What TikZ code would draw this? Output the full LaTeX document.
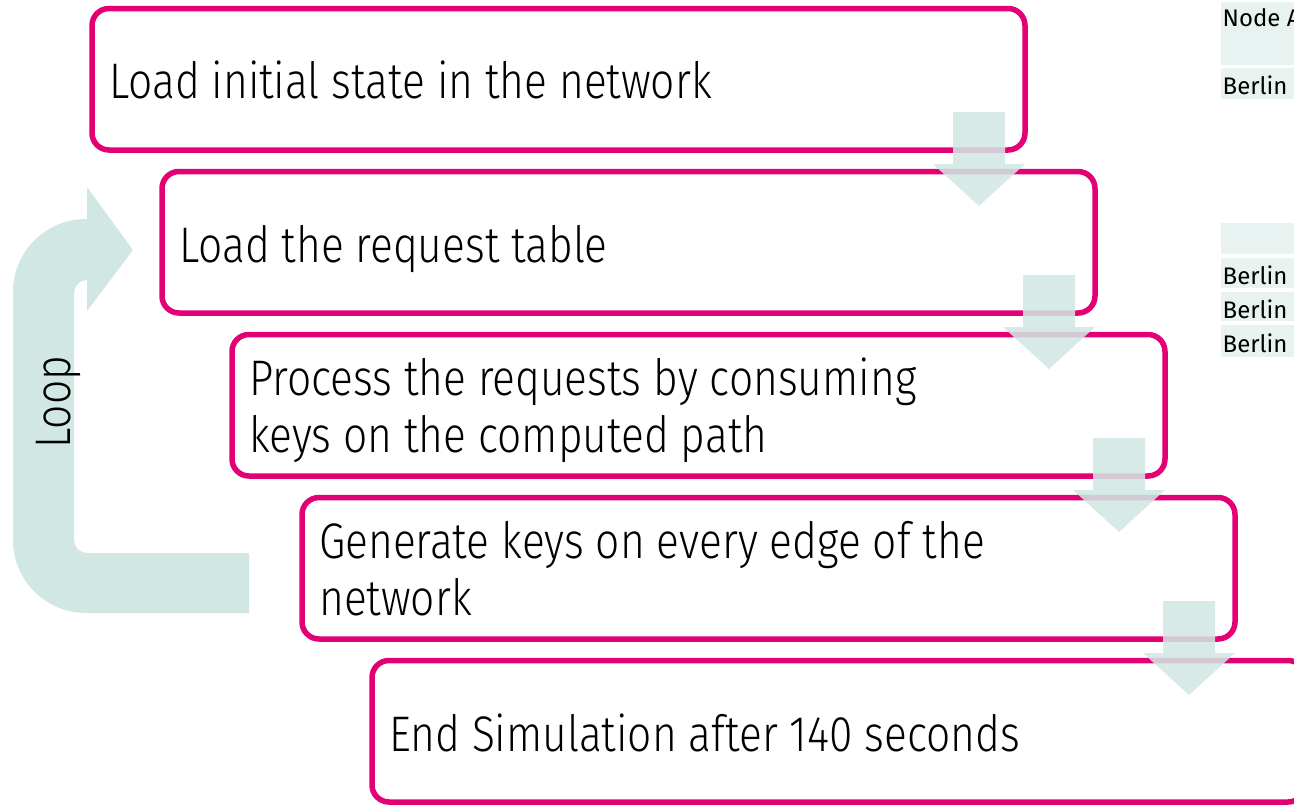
\documentclass[tikz,border=0pt]{standalone}
\usepackage{fontspec}
\usetikzlibrary{calc}
\newfontfamily\stepfont{Fira Sans Light}[FakeStretch=0.85]
\newfontfamily\cellfont{Fira Sans}
\definecolor{tmagenta}{HTML}{E20074}
\definecolor{flowmint}{HTML}{D1E7E3}
\definecolor{cellmint}{HTML}{E8F3F1}
\begin{document}
\begin{tikzpicture}[x=1pt,y=-1pt,
  stepbox/.style={draw=tmagenta, line width=5.5pt, rounded corners=17pt,
    minimum width=933pt, minimum height=141.5pt, inner sep=0pt, outer sep=0pt,
    anchor=north west},
  steptext/.style={font=\stepfont\fontsize{50}{58}\selectfont, inner sep=0pt, anchor=base west},
  downarrow/.style={fill=flowmint, fill opacity=0.87},
  cell/.style={fill=cellmint},
  celltext/.style={font=\cellfont\fontsize{24}{28}\selectfont, inner sep=0pt, anchor=base west}]
\useasboundingbox (0,0) rectangle (1294,804);

% tables on the right edge
\fill[cell] (1221,2) rectangle (1300,65);
\fill[cell] (1221,68) rectangle (1300,99);
\node[celltext] (h1) at (1222.5,26.7) {Node A};
\node[celltext] (r1) at (1222.5,94.5) {Berlin};
\fill[cell] (1221,223) rectangle (1300,254);
\fill[cell] (1221,258) rectangle (1300,288);
\fill[cell] (1221,292) rectangle (1300,321);
\fill[cell] (1221,325) rectangle (1300,357);
\node[celltext] (r2) at (1222.5,284.5) {Berlin};
\node[celltext] (r3) at (1222.5,318.5) {Berlin};
\node[celltext] (r4) at (1222.5,352.5) {Berlin};

% loop arrow
\fill[flowmint] (249,553) -- (87,553)
  .. controls (79.8,553) and (74,547.2) .. (74,540) -- (74,293)
  .. controls (74,285.8) and (79.8,280) .. (87,280)
  -- (87,311) -- (133,250) -- (87,187) -- (87,219) -- (86,219)
  .. controls (45.7,219) and (13,251.7) .. (13,292) -- (13,540)
  .. controls (13,580.3) and (45.7,613) .. (86,613) -- (249,613) -- cycle;
\node[font=\stepfont\fontsize{50}{58}\selectfont, inner sep=0pt, rotate=90, anchor=base]
  (loop) at (70,402) {Loop};

% process steps
\node[stepbox] (b1) at (92,8.5) {};
\node[stepbox] (b2) at (162,171.5) {};
\node[stepbox] (b3) at (232,334.5) {};
\node[stepbox] (b4) at (302,497.5) {};
\node[stepbox] (b5) at (372,660.5) {};

\node[steptext] (t1) at ($(b1.north west)+(17,89.5)$) {Load initial state in the network};
\node[steptext] (t2) at ($(b2.north west)+(17,90.5)$) {Load the request table};
\node[steptext] (t3a) at ($(b3.north west)+(17,60.5)$) {Process the requests by consuming};
\node[steptext] (t3b) at ($(b3.north west)+(17,117.5)$) {keys on the computed path};
\node[steptext] (t4a) at ($(b4.north west)+(17,60.5)$) {Generate keys on every edge of the};
\node[steptext] (t4b) at ($(b4.north west)+(17,117.5)$) {network};
\node[steptext] (t5) at ($(b5.north west)+(17,91)$) {End Simulation after 140 seconds};

% step-to-step arrows
\foreach \i in {b1,b2,b3,b4} {
  \path (\i.north east) ++(-46,103.5) coordinate (top-\i);
  \fill[downarrow] (top-\i) ++(-26,0) -- ++(52,0) -- ++(0,52) -- ++(20,0)
    -- ++(-46,42) -- ++(-46,-42) -- ++(20,0) -- cycle;
}
\end{tikzpicture}
\end{document}
